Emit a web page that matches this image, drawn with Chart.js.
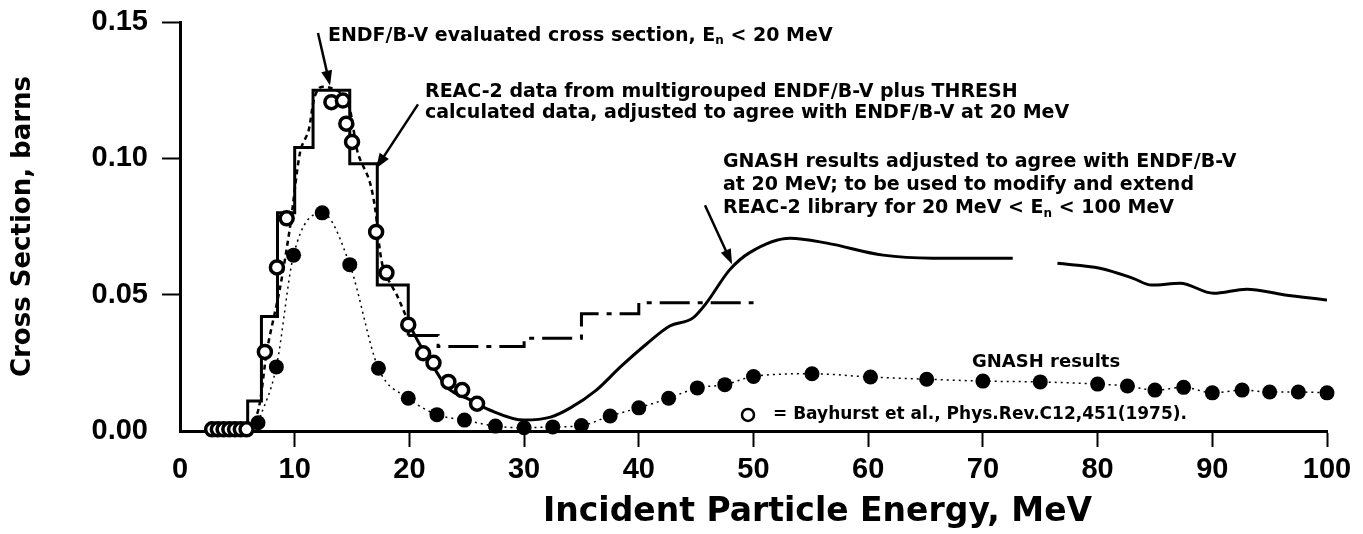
<!DOCTYPE html>
<html>
<head>
<meta charset="utf-8">
<script src="https://cdn.jsdelivr.net/npm/chart.js@4.4.1/dist/chart.umd.min.js"></script>
<style>
html, body { margin: 0; padding: 0; background: #fff; overflow: hidden; }
#wrap { width: 1363px; height: 534px; }
</style>
</head>
<body>
<div id="wrap"><canvas id="xsChart" width="1363" height="534"></canvas></div>
<script>
// energies in MeV, cross sections in barns
var energyTicks = [0, 10, 20, 30, 40, 50, 60, 70, 80, 90, 100];
var sigmaTicks = [0, 0.05, 0.10, 0.15];

// REAC-2 multigroup histogram: value holds from E[i] to E[i+1]
var reacE = [4.5, 5.9, 7.1, 8.5, 10.0, 11.6, 14.8, 17.2, 19.9, 22.5, 30.0, 35.0, 40.0, 50.0];
var reacS = [0, 0.011, 0.042, 0.080, 0.104, 0.125, 0.098, 0.0535, 0.035, 0.031, 0.034, 0.043, 0.047, 0.047];

// ENDF/B-V evaluated cross section (< 20 MeV)
var endfE = [6.2, 6.9, 7.6, 8.7, 9.6, 10.5, 11.2, 11.7, 12.2, 13.0, 14.0, 14.8, 15.5, 16.5, 17.0, 17.7, 19.0, 20.0];
var endfS = [0.000, 0.009, 0.030, 0.052, 0.075, 0.103, 0.110, 0.122, 0.126, 0.126, 0.124, 0.118, 0.102, 0.092, 0.082, 0.060, 0.049, 0.039];

// GNASH results adjusted to ENDF/B-V at 20 MeV (gap near 74 MeV)
var adjE = [20.0, 20.7, 22.1, 23.3, 25.3, 27.0, 30.0, 32.3, 34.0, 36.3, 38.4, 40.7, 42.7, 44.7, 45.9, 47.9, 49.7, 53.2, 56.4, 61.3, 65.6, 72.6, 74.5, 76.5, 80.2, 83.1, 84.7, 87.2, 90.1, 93.0, 96.2, 100.0];
var adjS = [0.039, 0.0333, 0.0235, 0.016, 0.0114, 0.0077, 0.004, 0.0051, 0.0084, 0.015, 0.0235, 0.032, 0.0385, 0.0414, 0.047, 0.059, 0.0655, 0.0707, 0.0689, 0.0645, 0.0634, 0.0634, null, 0.0615, 0.0597, 0.056, 0.0535, 0.0542, 0.0505, 0.052, 0.050, 0.048];

// GNASH results (filled circles)
var gnE = [6.8, 8.4, 9.9, 12.4, 14.8, 17.3, 19.9, 22.4, 24.8, 27.5, 30.0, 32.5, 35.0, 37.5, 40.0, 42.6, 45.1, 47.5, 50.0, 55.1, 60.2, 65.1, 70.0, 75.0, 80.0, 82.6, 85.0, 87.5, 90.0, 92.6, 95.0, 97.5, 100.0];
var gnS = [0.003, 0.0235, 0.0645, 0.080, 0.061, 0.023, 0.012, 0.006, 0.004, 0.0018, 0.0012, 0.0015, 0.002, 0.0055, 0.0085, 0.012, 0.0158, 0.017, 0.020, 0.021, 0.0198, 0.019, 0.0183, 0.018, 0.0172, 0.0165, 0.015, 0.016, 0.014, 0.015, 0.0143, 0.0143, 0.014];

// Bayhurst et al. measurements (open circles)
var bayE = [2.8, 3.3, 3.8, 4.3, 4.8, 5.3, 5.8, 7.4, 8.45, 9.3, 13.2, 14.2, 14.5, 15.0, 17.1, 18.0, 19.9, 21.2, 22.1, 23.4, 24.6, 25.9];
var bayS = [0.0006, 0.0006, 0.0006, 0.0006, 0.0006, 0.0006, 0.0006, 0.029, 0.060, 0.078, 0.1206, 0.1212, 0.1127, 0.106, 0.073, 0.058, 0.039, 0.0285, 0.025, 0.018, 0.015, 0.010];

function pts(xs, ys) {
    return xs.map(function (x, i) { return { x: x, y: ys[i] }; });
}

var TICKFONT = "'Liberation Sans', Arial, sans-serif";
var WIDE = "'DejaVu Sans', Verdana, sans-serif";

// text drawn over the plot, placed in data units
function richText(ctx, x, y, parts, size) {
    parts.forEach(function (p) {
        var sub = p[1];
        ctx.font = 'bold ' + (sub ? Math.round(size * 0.65) : size) + 'px ' + WIDE;
        ctx.fillText(p[0], x, sub ? y + size * 0.3 : y);
        x += ctx.measureText(p[0]).width;
    });
}

function arrow(ctx, x1, y1, x2, y2) {
    var a = Math.atan2(y2 - y1, x2 - x1), L = 15, W = 5.5;
    ctx.beginPath();
    ctx.moveTo(x1, y1);
    ctx.lineTo(x2 - L * 0.8 * Math.cos(a), y2 - L * 0.8 * Math.sin(a));
    ctx.lineWidth = 2.5;
    ctx.stroke();
    ctx.beginPath();
    ctx.moveTo(x2, y2);
    ctx.lineTo(x2 - L * Math.cos(a) + W * Math.sin(a), y2 - L * Math.sin(a) - W * Math.cos(a));
    ctx.lineTo(x2 - L * Math.cos(a) - W * Math.sin(a), y2 - L * Math.sin(a) + W * Math.cos(a));
    ctx.closePath();
    ctx.fill();
}

var notes = {
    id: 'notes',
    afterDraw: function (chart) {
        var ctx = chart.ctx, X = chart.scales.x, Y = chart.scales.y;
        var px = function (v) { return X.getPixelForValue(v); };
        var py = function (v) { return Y.getPixelForValue(v); };
        ctx.save();
        ctx.fillStyle = '#000';
        ctx.strokeStyle = '#000';
        ctx.textBaseline = 'middle';
        ctx.textAlign = 'left';

        richText(ctx, px(12.9), py(0.145), [['ENDF/B-V evaluated cross section, E', false], ['n', true], [' < 20 MeV', false]], 19);
        richText(ctx, px(21.36), py(0.1242), [['REAC-2 data from multigrouped ENDF/B-V plus THRESH', false]], 19);
        richText(ctx, px(21.36), py(0.1165), [['calculated data, adjusted to agree with ENDF/B-V at 20 MeV', false]], 19);
        richText(ctx, px(47.34), py(0.0985), [['GNASH results adjusted to agree with ENDF/B-V', false]], 19);
        richText(ctx, px(47.34), py(0.0901), [['at 20 MeV; to be used to modify and extend', false]], 19);
        richText(ctx, px(47.34), py(0.0817), [['REAC-2 library for 20 MeV < E', false], ['n', true], [' < 100 MeV', false]], 19);
        richText(ctx, px(69.05), py(0.0253), [['GNASH results', false]], 18);
        richText(ctx, px(51.7), py(0.0059), [['= Bayhurst et al., Phys.Rev.C12,451(1975).', false]], 17);

        ctx.beginPath();
        ctx.lineWidth = 2.5;
        ctx.arc(px(49.52), py(0.0059), 6, 0, Math.PI * 2);
        ctx.stroke();

        arrow(ctx, px(12.03), py(0.146), px(13.08), py(0.1267));
        arrow(ctx, px(20.75), py(0.1198), px(17.09), py(0.0963));
        arrow(ctx, px(45.77), py(0.0828), px(48.13), py(0.0612));

        // x axis title
        ctx.font = 'bold 33px ' + WIDE;
        ctx.fillText('Incident Particle Energy, MeV', 543, 512);
        ctx.restore();
    }
};

var ctx = document.getElementById('xsChart').getContext('2d');
var chart = new Chart(ctx, {
    type: 'line',
    data: {
        datasets: [{
            label: 'Bayhurst et al.',
            data: pts(bayE, bayS),
            showLine: false,
            pointRadius: 6.5,
            pointBorderWidth: 3.5,
            pointBorderColor: '#000',
            pointBackgroundColor: '#fff',
            clip: false
        }, {
            label: 'GNASH results',
            data: pts(gnE, gnS),
            borderColor: '#000',
            borderWidth: 1.5,
            borderDash: [2, 4],
            cubicInterpolationMode: 'monotone',
            pointRadius: 7.5,
            pointBackgroundColor: '#000',
            pointBorderColor: '#000',
            pointBorderWidth: 0,
            clip: false
        }, {
            label: 'ENDF/B-V evaluated',
            data: pts(endfE, endfS),
            borderColor: '#000',
            borderWidth: 2.5,
            borderDash: [5, 4],
            tension: 0.3,
            pointRadius: 0
        }, {
            label: 'GNASH adjusted',
            data: pts(adjE, adjS),
            borderColor: '#000',
            borderWidth: 3,
            cubicInterpolationMode: 'monotone',
            spanGaps: false,
            pointRadius: 0
        }, {
            label: 'REAC-2',
            data: pts(reacE, reacS),
            borderColor: '#000',
            borderWidth: 3,
            stepped: true,
            pointRadius: 0,
            segment: {
                borderDash: function (c) { return c.p0.parsed.x >= 19.9 ? [30, 8, 5, 8] : undefined; }
            }
        }]
    },
    options: {
        responsive: false,
        animation: false,
        events: [],
        layout: { padding: { left: 0, right: 36, top: 22, bottom: 0 } },
        plugins: { legend: { display: false }, tooltip: { enabled: false } },
        scales: {
            x: {
                type: 'linear',
                min: 0,
                max: 100,
                afterFit: function (s) { s.height = 103; },
                afterBuildTicks: function (s) { s.ticks = energyTicks.map(function (v) { return { value: v }; }); },
                grid: {
                    drawOnChartArea: false,
                    drawTicks: true,
                    tickLength: 16,
                    tickWidth: 2,
                    tickColor: function (c) { return c.tick && c.tick.value === 0 ? 'rgba(0,0,0,0)' : '#000'; }
                },
                border: { display: true, color: '#000', width: 3 },
                ticks: {
                    maxRotation: 0,
                    autoSkip: false,
                    padding: 6,
                    color: '#000',
                    font: { family: TICKFONT, size: 29, weight: 'bold' }
                }
            },
            y: {
                min: 0,
                max: 0.15,
                afterFit: function (s) { s.width = 180; s.paddingTop = 0; s.paddingBottom = 0; },
                afterBuildTicks: function (s) { s.ticks = sigmaTicks.map(function (v) { return { value: v }; }); },
                grid: {
                    drawOnChartArea: false,
                    drawTicks: true,
                    tickLength: 18,
                    tickWidth: 2,
                    tickColor: function (c) { return c.tick && c.tick.value === 0 ? 'rgba(0,0,0,0)' : '#000'; }
                },
                border: { display: true, color: '#000', width: 3 },
                ticks: {
                    padding: 14,
                    autoSkip: false,
                    color: '#000',
                    font: { family: TICKFONT, size: 29, weight: 'bold' },
                    callback: function (v) { return v.toFixed(2); }
                },
                title: {
                    display: true,
                    text: 'Cross Section, barns',
                    color: '#000',
                    padding: { top: 8, bottom: 0 },
                    font: { family: WIDE, size: 26, weight: 'bold' }
                }
            }
        }
    },
    plugins: [notes]
});
</script>
</body>
</html>
